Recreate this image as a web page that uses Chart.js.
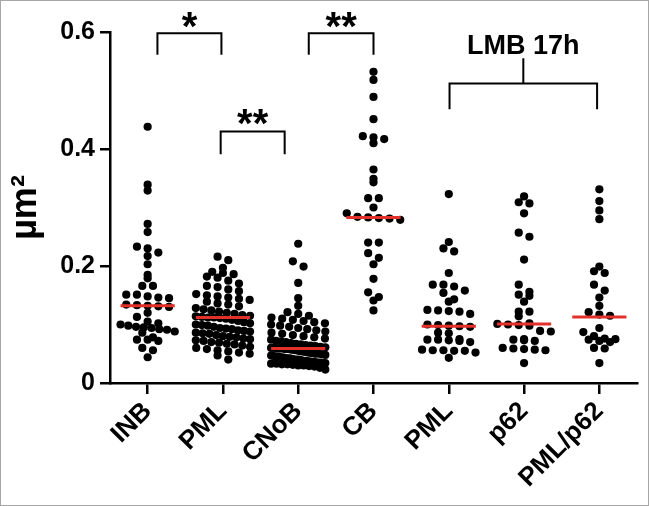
<!DOCTYPE html>
<html>
<head>
<meta charset="utf-8">
<script src="https://cdn.jsdelivr.net/npm/chart.js@4.4.1/dist/chart.umd.min.js"></script>
<style>
  html, body { margin: 0; padding: 0; background: #fff; }
  #wrap { width: 649px; height: 506px; }
</style>
</head>
<body>
<div id="wrap"><canvas id="chart" width="649" height="506"></canvas></div>
<script>
// groups on the x axis
const categories = ['INB', 'PML', 'CNoB', 'CB', 'PML', 'p62', 'PML/p62'];

const inbValues = [0.438, 0.339, 0.329, 0.272, 0.258, 0.233, 0.230, 0.223, 0.217, 0.203, 0.185, 0.179,
  0.166, 0.166, 0.151, 0.151, 0.148, 0.146, 0.145, 0.134, 0.133, 0.132, 0.131, 0.130, 0.120, 0.113,
  0.105, 0.102, 0.100, 0.098, 0.096, 0.095, 0.094, 0.092, 0.091, 0.088, 0.086, 0.078, 0.074, 0.074,
  0.072, 0.060, 0.056, 0.044];
const pmlValues = [0.216, 0.210, 0.197, 0.190, 0.188, 0.186, 0.182, 0.180, 0.175, 0.170, 0.166, 0.164,
  0.160, 0.157, 0.152, 0.150, 0.148, 0.146, 0.144, 0.142, 0.139, 0.136, 0.134, 0.131, 0.128, 0.126,
  0.124, 0.122, 0.120, 0.118, 0.116, 0.115, 0.114, 0.113, 0.112, 0.112, 0.111, 0.110, 0.108, 0.106,
  0.104, 0.102, 0.100, 0.099, 0.098, 0.096, 0.094, 0.093, 0.092, 0.090, 0.089, 0.088, 0.086, 0.085,
  0.084, 0.082, 0.080, 0.079, 0.078, 0.076, 0.075, 0.073, 0.072, 0.070, 0.069, 0.067, 0.066, 0.064,
  0.062, 0.060, 0.058, 0.056, 0.054, 0.052, 0.050, 0.047, 0.040];
const cnobValues = [0.238, 0.208, 0.199, 0.171, 0.145, 0.132, 0.121, 0.118, 0.115, 0.112, 0.110, 0.108,
  0.106, 0.104, 0.102, 0.100, 0.098, 0.096, 0.094, 0.092, 0.090, 0.088, 0.086, 0.084, 0.082, 0.080,
  0.078, 0.076, 0.074, 0.072, 0.071, 0.070, 0.068, 0.067, 0.066, 0.065, 0.064, 0.063, 0.062, 0.061,
  0.060, 0.060, 0.059, 0.059, 0.058, 0.058, 0.057, 0.056, 0.055, 0.054, 0.053, 0.052, 0.051, 0.050,
  0.050, 0.049, 0.048, 0.047, 0.046, 0.045, 0.045, 0.044, 0.043, 0.042, 0.042, 0.041, 0.040, 0.040,
  0.039, 0.038, 0.038, 0.037, 0.036, 0.036, 0.035, 0.035, 0.034, 0.034, 0.033, 0.033, 0.032, 0.032,
  0.031, 0.030, 0.030, 0.029, 0.028, 0.026, 0.023];
const cbValues = [0.532, 0.518, 0.489, 0.451, 0.422, 0.420, 0.417, 0.410, 0.365, 0.349, 0.343, 0.316,
  0.316, 0.300, 0.290, 0.284, 0.283, 0.282, 0.281, 0.279, 0.240, 0.240, 0.222, 0.214, 0.203, 0.178,
  0.155, 0.147, 0.141, 0.124];
const lmbPmlValues = [0.323, 0.241, 0.230, 0.225, 0.188, 0.168, 0.168, 0.165, 0.158, 0.154, 0.143, 0.139,
  0.125, 0.124, 0.123, 0.122, 0.118, 0.100, 0.099, 0.098, 0.097, 0.096, 0.086, 0.085, 0.075, 0.074,
  0.074, 0.073, 0.072, 0.070, 0.057, 0.056, 0.056, 0.055, 0.055, 0.052, 0.043];
const lmbP62Values = [0.319, 0.309, 0.307, 0.290, 0.257, 0.250, 0.211, 0.168, 0.156, 0.151, 0.149, 0.139,
  0.122, 0.122, 0.114, 0.102, 0.101, 0.100, 0.099, 0.098, 0.089, 0.088, 0.075, 0.074, 0.073, 0.072,
  0.060, 0.059, 0.058, 0.057, 0.056, 0.034];
const lmbBothValues = [0.331, 0.311, 0.295, 0.280, 0.199, 0.191, 0.188, 0.168, 0.158, 0.146, 0.132, 0.121,
  0.117, 0.115, 0.094, 0.087, 0.080, 0.076, 0.075, 0.074, 0.072, 0.070, 0.060, 0.059, 0.034];

// red lines (medians) as drawn
const medians = [0.132, 0.112, 0.059, 0.283, 0.097, 0.101, 0.113];

const yTicks = [0, 0.2, 0.4, 0.6];

// significance brackets: from group, to group, top value, leg value, label
const brackets = [
  { from: 0.13, to: 0.98, top: 0.598, leg: 0.561, label: '*', labelY: 0.621 },
  { from: 0.97, to: 1.82, top: 0.430, leg: 0.391, label: '**', labelY: 0.454 },
  { from: 2.14, to: 3.00, top: 0.598, leg: 0.561, label: '**', labelY: 0.620 },
  { from: 4.01, to: 5.97, top: 0.512, leg: 0.468, label: 'LMB 17h', labelY: 0.580, stem: 0.555 }
];

const groups = [inbValues, pmlValues, cnobValues, cbValues, lmbPmlValues, lmbP62Values, lmbBothValues];

// spread dots sideways like a column scatter: same-row values sit side by side
const BIN = 0.0135, STEP = 0.142, MAXW = 0.72;
function swarm(vals, center) {
  const rows = {};
  vals.forEach(v => {
    const k = Math.round(v / BIN);
    (rows[k] = rows[k] || []).push(v);
  });
  const out = [];
  Object.keys(rows).forEach(k => {
    const row = rows[k];
    const n = row.length;
    const step = n > 1 ? Math.min(STEP, MAXW / (n - 1)) : 0;
    row.forEach((v, i) => out.push({ x: center + (i - (n - 1) / 2) * step, y: v }));
  });
  return out;
}

let dots = [];
groups.forEach((g, i) => { dots = dots.concat(swarm(g, i)); });

const medianLine = [];
medians.forEach((m, i) => {
  medianLine.push({ x: i - 0.36, y: m }, { x: i + 0.36, y: m }, { x: i, y: null });
});

const bracketLine = [];
brackets.forEach(b => {
  bracketLine.push({ x: b.from, y: b.leg }, { x: b.from, y: b.top }, { x: b.to, y: b.top }, { x: b.to, y: b.leg }, { x: b.from, y: null });
  if (b.stem) {
    const mid = (b.from + b.to) / 2;
    bracketLine.push({ x: mid, y: b.top }, { x: mid, y: b.stem }, { x: mid, y: null });
  }
});

const FONT = '"Liberation Sans", Arial, Helvetica, sans-serif';

const annotate = {
  id: 'annotate',
  beforeDraw(chart) {
    const c = chart.ctx;
    c.save();
    c.fillStyle = '#fff';
    c.fillRect(0, 0, chart.width, chart.height);
    c.restore();
  },
  afterDraw(chart) {
    const c = chart.ctx;
    const xs = chart.scales.x, ys = chart.scales.y;
    c.save();
    c.fillStyle = '#000';
    c.textAlign = 'center';
    brackets.forEach(b => {
      const isText = b.label.indexOf('*') < 0;
      c.font = isText ? 'bold 27px ' + FONT : 'bold 40px ' + FONT;
      const m = c.measureText(b.label);
      const cx = xs.getPixelForValue((b.from + b.to) / 2);
      const cy = ys.getPixelForValue(b.labelY);
      // centre the ink of the glyphs on the target point
      const base = cy + (m.actualBoundingBoxAscent - m.actualBoundingBoxDescent) / 2;
      c.fillText(b.label, cx, base);
    });
    // thin grey frame round the figure
    c.strokeStyle = '#a6a6a6';
    c.lineWidth = 1;
    c.strokeRect(0.5, 0.5, chart.width - 1, chart.height - 1);
    c.restore();
  }
};

new Chart(document.getElementById('chart'), {
  type: 'scatter',
  data: {
    datasets: [
      {
        label: 'median',
        data: medianLine,
        showLine: true,
        spanGaps: false,
        borderColor: '#e3302b',
        borderWidth: 3,
        pointRadius: 0,
        order: 0
      },
      {
        label: 'area',
        data: dots,
        pointRadius: 4.1,
        pointBackgroundColor: '#000',
        pointBorderWidth: 0,
        order: 1
      },
      {
        label: 'brackets',
        data: bracketLine,
        showLine: true,
        spanGaps: false,
        borderColor: '#000',
        borderWidth: 2,
        pointRadius: 0,
        clip: false,
        order: 2
      }
    ]
  },
  options: {
    responsive: false,
    animation: false,
    layout: { padding: { top: 32, right: 12, bottom: 0, left: 0 } },
    plugins: { legend: { display: false }, tooltip: { enabled: false } },
    scales: {
      x: {
        type: 'linear',
        min: -0.5,
        max: 6.5,
        afterBuildTicks: s => { s.ticks = categories.map((c, i) => ({ value: i })); },
        afterFit: s => { s.height = 123; },
        border: { display: true, color: '#000', width: 2.5 },
        grid: { display: true, drawOnChartArea: false, drawTicks: true, tickLength: 11, color: '#000', lineWidth: 2.5 },
        ticks: {
          autoSkip: false,
          minRotation: 45,
          maxRotation: 45,
          padding: 2,
          color: '#000',
          font: { family: FONT, size: 26, weight: 'bold' },
          callback: v => categories[v]
        }
      },
      y: {
        min: 0,
        max: 0.6,
        afterBuildTicks: s => { s.ticks = yTicks.map(v => ({ value: v })); },
        afterFit: s => { s.width = 110; },
        border: { display: true, color: '#000', width: 2.5 },
        grid: { display: true, drawOnChartArea: false, drawTicks: true, tickLength: 10, color: '#000', lineWidth: 2.5 },
        ticks: {
          padding: 5,
          color: '#000',
          font: { family: FONT, size: 25, weight: 'bold' },
          callback: v => (v === 0 ? '0' : v.toFixed(1))
        },
        title: {
          display: true,
          text: 'µm²',
          color: '#000',
          padding: { top: 4, bottom: 0 },
          font: { family: FONT, size: 36, weight: 'bold' }
        }
      }
    }
  },
  plugins: [annotate]
});
</script>
</body>
</html>
